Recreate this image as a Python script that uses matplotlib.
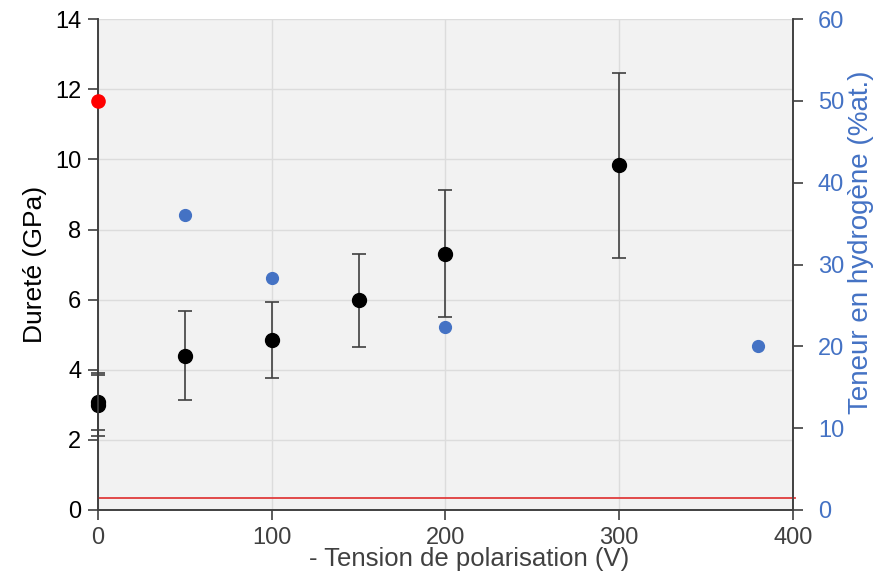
import matplotlib.pyplot as plt

plt.rcParams['font.family'] = ['Liberation Sans', 'DejaVu Sans']

# Dureté (axe gauche)
tension = [0, 0, 50, 100, 150, 200, 300]
durete = [3.00, 3.07, 4.40, 4.84, 5.98, 7.31, 9.83]
durete_err = [0.90, 0.78, 1.27, 1.08, 1.33, 1.81, 2.63]

# Teneur en hydrogène (axe droit)
tension_h = [50, 100, 200, 380]
hydrogene = [36.0, 28.4, 22.4, 20.0]
tension_ref = [0]
hydrogene_ref = [50.0]
seuil_h = 1.42

gris = "#404040"
bleu = "#4472C4"

fig = plt.figure(figsize=(8.8, 5.8), dpi=100)
ax = fig.add_axes([0.1114, 0.1207, 0.7896, 0.8463])
ax.set_facecolor("#f2f2f2")

ax.grid(True, color="#dcdcdc", lw=1)
ax.set_axisbelow(True)

ax.errorbar(tension, durete, yerr=durete_err, fmt="o", color="black",
            ms=10, ecolor=gris, elinewidth=1.2, capsize=5, capthick=1.2,
            zorder=3, clip_on=False)

ax.set_xlim(0, 400)
ax.set_ylim(0, 14)
ax.set_xticks([0, 100, 200, 300, 400])
ax.set_yticks(range(0, 15, 2))
ax.set_xlabel("- Tension de polarisation (V)", fontsize=18.5, color=gris, labelpad=-1)
ax.xaxis.label.set_x(0.534)
ax.set_ylabel("Dureté (GPa)", fontsize=19, color="black", labelpad=6)
ax.tick_params(axis="both", labelsize=17, colors=gris, length=7, width=1.2, pad=5)
ax.tick_params(axis="y", labelcolor="black")

for s in ["left", "bottom", "right"]:
    ax.spines[s].set_color(gris)
    ax.spines[s].set_linewidth(1.2)
ax.spines["top"].set_visible(False)

ax2 = ax.twinx()
ax2.set_ylim(0, 60)
ax2.set_yticks(range(0, 61, 10))
ax2.plot([0, 401], [seuil_h, seuil_h], color="#e03c3c", lw=1.3, zorder=2, clip_on=False)
ax2.set_xlim(0, 400)
ax2.plot(tension_h, hydrogene, "o", color=bleu, ms=8.5, zorder=3, clip_on=False)
ax2.plot(tension_ref, hydrogene_ref, "o", color="#ff0000", ms=9.5, zorder=3, clip_on=False)
ax2.set_ylabel("Teneur en hydrogène (%at.)", fontsize=20, color=bleu, labelpad=3)
ax2.yaxis.label.set_y(0.545)
ax2.tick_params(axis="y", labelsize=17, colors=gris, labelcolor=bleu,
                length=7, width=1.2, pad=11)
for s in ["left", "bottom", "right"]:
    ax2.spines[s].set_color(gris)
    ax2.spines[s].set_linewidth(1.2)
ax2.spines["top"].set_visible(False)

fig.savefig("out.png", dpi=100)
